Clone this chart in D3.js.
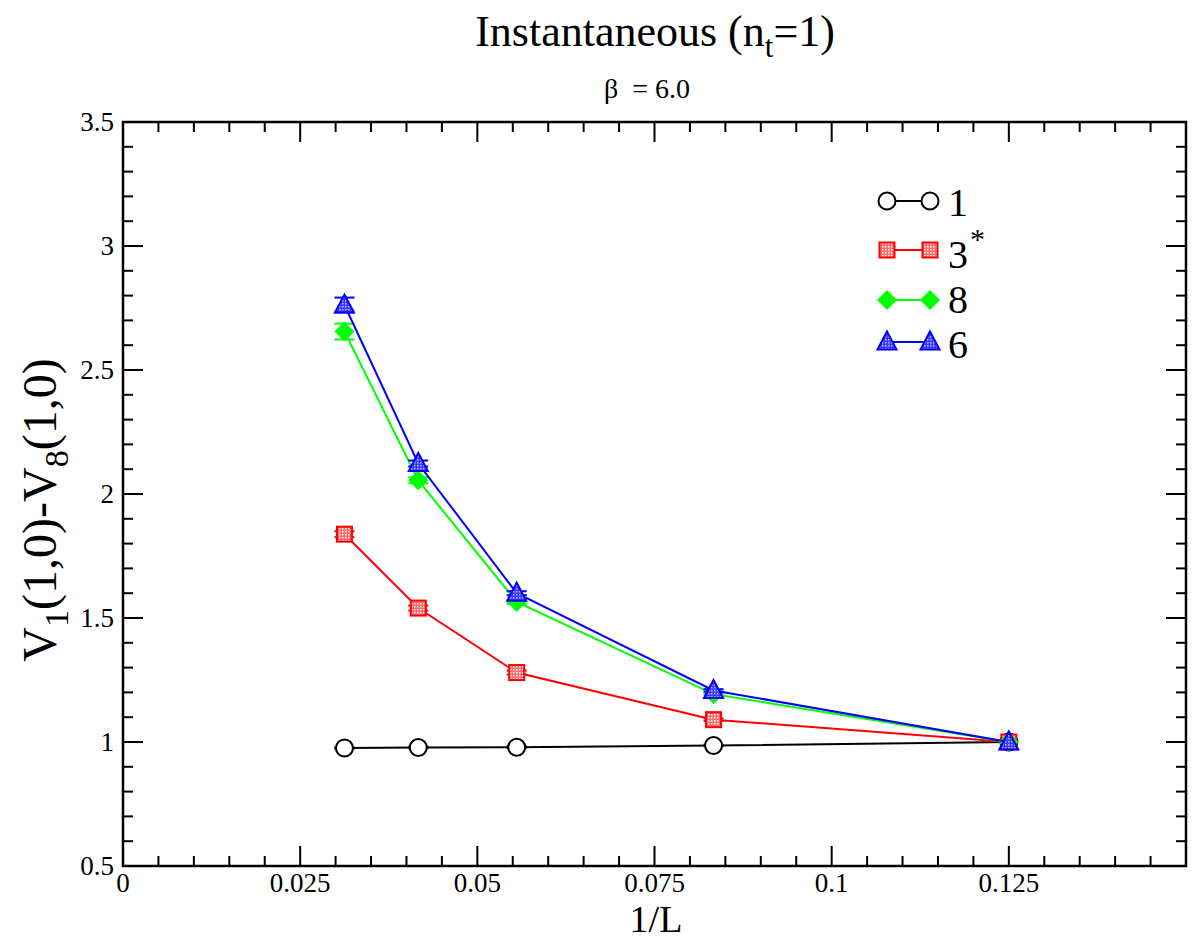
<!DOCTYPE html>
<html><head><meta charset="utf-8">
<script src="https://cdn.jsdelivr.net/npm/d3@7"></script>
<style>body{margin:0;background:#fff}svg{display:block}</style>
</head><body><svg id="c" width="1192" height="942" font-family="'Liberation Serif','Times New Roman',serif"></svg>
<script>
const xValues = [1/32, 1/24, 1/18, 1/12, 1/8];
const seriesNames = ["1", "3", "8", "6"];
const vals1 = [0.976, 0.978, 0.979, 0.986, 1.0];
const vals3 = [1.838, 1.540, 1.280, 1.090, 1.0];
const vals8 = [2.655, 2.055, 1.565, 1.193, 1.0];
const vals6 = [2.762, 2.123, 1.600, 1.208, 1.0];
const err1 = [0.003, 0.003, 0.003, 0.003, 0.0];
const err3 = [0.012, 0.010, 0.008, 0.005, 0.0];
const err8 = [0.032, 0.012, 0.008, 0.005, 0.0];
const err6 = [0.030, 0.012, 0.008, 0.005, 0.0];
const xTicks = [0, 0.025, 0.05, 0.075, 0.1, 0.125];
const xTickLabels = ["0", "0.025", "0.05", "0.075", "0.1", "0.125"];
const yTicks = [0.5, 1, 1.5, 2, 2.5, 3, 3.5];
const yTickLabels = ["0.5", "1", "1.5", "2", "2.5", "3", "3.5"];

const svg = d3.select("#c");
const L = 123, R = 1186, T = 122, B = 866;
const x = d3.scaleLinear().domain([0, 0.15]).range([L, R]);
const y = d3.scaleLinear().domain([0.5, 3.5]).range([B, T]);

// defs: patterns
const defs = svg.append("defs");
const pr = defs.append("pattern").attr("id","pr").attr("width",3).attr("height",3).attr("patternUnits","userSpaceOnUse");
pr.append("rect").attr("width",3).attr("height",3).attr("fill","#ff6a6a");
pr.append("rect").attr("width",1.5).attr("height",1.5).attr("fill","#fff");
const pb = defs.append("pattern").attr("id","pb").attr("width",3).attr("height",3).attr("patternUnits","userSpaceOnUse");
pb.append("rect").attr("width",3).attr("height",3).attr("fill","#3b3bff");
pb.append("rect").attr("width",1.5).attr("height",1.5).attr("fill","#b8b8ff");

// ticks
const minorX = d3.range(0, 0.1501, 0.005);
const minorY = d3.range(0.5, 3.501, 0.1);
const g = svg.append("g").attr("stroke","#000").attr("stroke-width",2);
minorX.forEach(v => {
  const isMajor = Math.abs(v/0.025 - Math.round(v/0.025)) < 1e-6;
  const len = isMajor ? 20 : 10;
  g.append("line").attr("x1",x(v)).attr("x2",x(v)).attr("y1",B).attr("y2",B-len);
  g.append("line").attr("x1",x(v)).attr("x2",x(v)).attr("y1",T).attr("y2",T+len);
});
minorY.forEach(v => {
  const isMajor = Math.abs(v/0.5 - Math.round(v/0.5)) < 1e-6;
  const len = isMajor ? 20 : 10;
  g.append("line").attr("y1",y(v)).attr("y2",y(v)).attr("x1",L).attr("x2",L+len);
  g.append("line").attr("y1",y(v)).attr("y2",y(v)).attr("x1",R).attr("x2",R-len);
});
svg.append("rect").attr("x",L).attr("y",T).attr("width",R-L).attr("height",B-T)
  .attr("fill","none").attr("stroke","#000").attr("stroke-width",2.5);

// tick labels
svg.selectAll(".xl").data(xTicks).enter().append("text")
  .attr("x", d => x(d)).attr("y", B + 26).attr("text-anchor","middle")
  .attr("font-size", 27).text((d,i) => xTickLabels[i]);
svg.selectAll(".yl").data(yTicks).enter().append("text")
  .attr("x", L - 9).attr("y", d => y(d) + 9).attr("text-anchor","end")
  .attr("font-size", 27).text((d,i) => yTickLabels[i]);

// titles
const t = svg.append("text").attr("x", 655).attr("y", 46).attr("text-anchor","middle").attr("font-size", 44);
t.append("tspan").text("Instantaneous (n");
t.append("tspan").attr("font-size", 31).attr("dy", 11).text("t");
t.append("tspan").attr("dy", -11).text("=1)");
svg.append("text").attr("x", 647).attr("y", 98).attr("text-anchor","middle").attr("font-size", 28)
  .attr("xml:space","preserve").text("β  = 6.0");
svg.append("text").attr("x", 656).attr("y", 932).attr("text-anchor","middle").attr("font-size", 38).text("1/L");
const yl = svg.append("text").attr("transform","translate(56,510) rotate(-90)").attr("text-anchor","middle").attr("font-size", 48);
yl.append("tspan").text("V");
yl.append("tspan").attr("font-size", 34).attr("dy", 12).text("1");
yl.append("tspan").attr("dy", -12).text("(1,0)-V");
yl.append("tspan").attr("font-size", 34).attr("dy", 12).text("8");
yl.append("tspan").attr("dy", -12).text("(1,0)");

// markers
function drawMarker(sel, type, cx, cy) {
  if (type === "circle") {
    sel.append("circle").attr("cx",cx).attr("cy",cy).attr("r",8.5).attr("fill","#fff").attr("stroke","#000").attr("stroke-width",2);
  } else if (type === "square") {
    sel.append("rect").attr("x",cx-7.5).attr("y",cy-7.5).attr("width",15).attr("height",15).attr("fill","url(#pr)").attr("stroke","#ff0000").attr("stroke-width",2);
  } else if (type === "diamond") {
    const s = 9.5;
    sel.append("path").attr("d",`M${cx},${cy-s}L${cx+s},${cy}L${cx},${cy+s}L${cx-s},${cy}Z`).attr("fill","#00ff00").attr("stroke","#00ff00").attr("stroke-width",1);
  } else {
    const s = 9.5;
    sel.append("path").attr("d",`M${cx},${cy-s-1}L${cx+s},${cy+s-2}L${cx-s},${cy+s-2}Z`).attr("fill","url(#pb)").attr("stroke","#0000ff").attr("stroke-width",2);
  }
}

const series = [
  {name:"1", vals: vals1, err: err1, color:"#000", marker:"circle"},
  {name:"3", vals: vals3, err: err3, color:"#ff0000", marker:"square"},
  {name:"8", vals: vals8, err: err8, color:"#00ff00", marker:"diamond"},
  {name:"6", vals: vals6, err: err6, color:"#0000ff", marker:"triangle"}
];
const line = d3.line().x(d => x(d[0])).y(d => y(d[1]));
series.forEach(s => {
  const gs = svg.append("g");
  const pts = xValues.map((xv,i) => [xv, s.vals[i]]);
  gs.append("path").attr("d", line(pts)).attr("fill","none").attr("stroke", s.color).attr("stroke-width", 2);
  pts.forEach((p,i) => {
    const e = s.err[i];
    if (e > 0) {
      const cx = x(p[0]);
      gs.append("line").attr("x1",cx).attr("x2",cx).attr("y1",y(p[1]-e)).attr("y2",y(p[1]+e)).attr("stroke",s.color).attr("stroke-width",2);
      [p[1]-e, p[1]+e].forEach(v => gs.append("line").attr("x1",cx-10).attr("x2",cx+10).attr("y1",y(v)).attr("y2",y(v)).attr("stroke",s.color).attr("stroke-width",2));
    }
    drawMarker(gs, s.marker, x(p[0]), y(p[1]));
  });
});

// legend
const legY = [201, 250, 300, 342];
const legTextY = [216, 268, 313, 358];
series.forEach((s,i) => {
  const gl = svg.append("g");
  const yy = legY[i];
  gl.append("line").attr("x1",887).attr("x2",930).attr("y1",yy).attr("y2",yy).attr("stroke",s.color).attr("stroke-width",2);
  drawMarker(gl, s.marker, 887, yy);
  drawMarker(gl, s.marker, 930, yy);
  gl.append("text").attr("x", 948).attr("y", legTextY[i]).attr("font-size", 40).text(s.name);
  if (s.name === "3") {
    gl.append("text").attr("x", 970).attr("y", 249).attr("font-size", 30).text("*");
  }
});
</script></body></html>
